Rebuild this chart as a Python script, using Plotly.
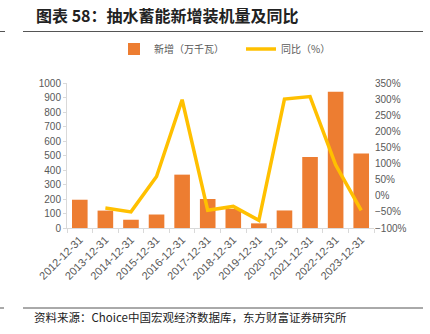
import plotly.graph_objects as go

categories = ["2012-12-31", "2013-12-31", "2014-12-31", "2015-12-31", "2016-12-31", "2017-12-31",
              "2018-12-31", "2019-12-31", "2020-12-31", "2021-12-31", "2022-12-31", "2023-12-31"]
new_capacity = [195, 120, 57, 93, 368, 200, 131, 32, 121, 490, 940, 514]
yoy_pct = [None, -38, -50, 60, 298, -45, -33, -76, 300, 308, 96, -45]

title_text = "图表 58：抽水蓄能新增装机量及同比"
source_text = "资料来源：Choice中国宏观经济数据库，东方财富证券研究所"
bar_name = "新增（万千瓦）"
line_name = "同比（%）"

GRAY = "#595959"
AXIS = "#D9D9D9"
TICK_FONT = dict(family="Liberation Sans, Arial, sans-serif", size=10, color=GRAY)
CJK = "Noto Sans CJK SC"

fig = go.Figure()
fig.add_trace(go.Bar(x=categories, y=new_capacity, name=bar_name,
                     marker=dict(color="#ED7D31", line=dict(width=0)), yaxis="y",
                     legend="legend"))
fig.add_trace(go.Scatter(x=categories, y=yoy_pct, name=line_name, mode="lines",
                         line=dict(color="#FFC000", width=3.5), yaxis="y2",
                         connectgaps=False, legend="legend2"))

LEG_FONT = dict(family=CJK, size=10, color=GRAY)
fig.update_layout(
    width=430, height=334,
    margin=dict(l=67, r=56, t=83, b=106),
    paper_bgcolor="white", plot_bgcolor="white",
    bargap=0.39,
    showlegend=True,
    legend=dict(orientation="h", x=(114 - 67) / 307, y=1.235, xanchor="left", yanchor="middle",
                font=LEG_FONT, bgcolor="rgba(0,0,0,0)", itemwidth=30),
    legend2=dict(orientation="h", x=(241 - 67) / 307, y=1.235, xanchor="left", yanchor="middle",
                 font=LEG_FONT, bgcolor="rgba(0,0,0,0)", itemwidth=30),
    xaxis=dict(type="category", showgrid=False, showline=True, linecolor=AXIS, linewidth=1,
               ticks="outside", tickson="boundaries", ticklen=4, tickcolor=AXIS,
               tickangle=-45, tickfont=dict(TICK_FONT, size=11)),
    yaxis=dict(range=[0, 1000], dtick=100, showgrid=False, showline=True, linecolor=AXIS,
               linewidth=1, ticks="outside", ticklen=3, tickcolor=AXIS, tickfont=TICK_FONT,
               zeroline=False),
    yaxis2=dict(range=[-100, 350], dtick=50, overlaying="y", side="right", showgrid=False,
                showline=False, ticksuffix="%", tickfont=TICK_FONT, zeroline=False),
    font=dict(family=CJK),
)

fig.add_annotation(text="<b>" + title_text + "</b>", xref="paper", yref="paper",
                   x=(34 - 67) / 307, y=(228 - 15) / 145, xanchor="left", yanchor="middle",
                   showarrow=False, font=dict(family=CJK, size=16, color="#222222"))
fig.add_annotation(text=source_text, xref="paper", yref="paper",
                   x=(32 - 67) / 307, y=-(317 - 228) / 145, xanchor="left", yanchor="middle",
                   showarrow=False, font=dict(family=CJK, size=11.5, color="#222222"))

def hline(ypx, x0px, x1px):
    fig.add_shape(type="line", xref="paper", yref="paper",
                  x0=(x0px - 67) / 307, x1=(x1px - 67) / 307,
                  y0=(228 - ypx) / 145, y1=(228 - ypx) / 145,
                  line=dict(color="#555555", width=1))

hline(31.5, 23, 423)
hline(31.5, 0, 5)
hline(308, 23, 423)
hline(308, 0, 4)

fig.write_html("out.html")
